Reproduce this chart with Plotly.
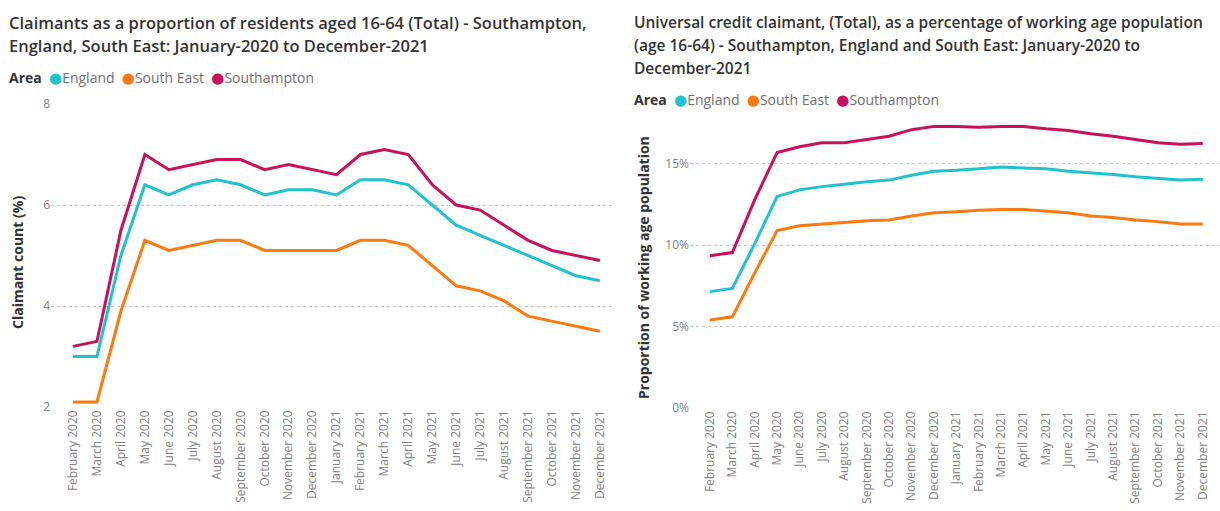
import plotly.graph_objects as go

months = ["February 2020", "March 2020", "April 2020", "May 2020", "June 2020", "July 2020",
          "August 2020", "September 2020", "October 2020", "November 2020", "December 2020",
          "January 2021", "February 2021", "March 2021", "April 2021", "May 2021", "June 2021",
          "July 2021", "August 2021", "September 2021", "October 2021", "November 2021",
          "December 2021"]

# Left chart: claimant count (%)
cc_england = [3.0, 3.0, 5.0, 6.4, 6.2, 6.4, 6.5, 6.4, 6.2, 6.3, 6.3, 6.2, 6.5, 6.5, 6.4,
              6.0, 5.6, 5.4, 5.2, 5.0, 4.8, 4.6, 4.5]
cc_south_east = [2.1, 2.1, 3.9, 5.3, 5.1, 5.2, 5.3, 5.3, 5.1, 5.1, 5.1, 5.1, 5.3, 5.3, 5.2,
                 4.8, 4.4, 4.3, 4.1, 3.8, 3.7, 3.6, 3.5]
cc_southampton = [3.2, 3.3, 5.5, 7.0, 6.7, 6.8, 6.9, 6.9, 6.7, 6.8, 6.7, 6.6, 7.0, 7.1, 7.0,
                  6.4, 6.0, 5.9, 5.6, 5.3, 5.1, 5.0, 4.9]

# Right chart: universal credit claimants (% of working age population)
uc_england = [7.15, 7.35, 10.1, 13.0, 13.4, 13.6, 13.75, 13.9, 14.0, 14.3, 14.55, 14.6, 14.7,
              14.8, 14.75, 14.7, 14.55, 14.45, 14.35, 14.2, 14.1, 14.0, 14.05]
uc_south_east = [5.4, 5.6, 8.3, 10.9, 11.2, 11.3, 11.4, 11.5, 11.55, 11.8, 12.0, 12.05, 12.15,
                 12.2, 12.2, 12.1, 12.0, 11.8, 11.7, 11.55, 11.45, 11.3, 11.3]
uc_southampton = [9.35, 9.55, 12.8, 15.7, 16.05, 16.3, 16.3, 16.5, 16.7, 17.1, 17.3, 17.3,
                  17.25, 17.3, 17.3, 17.15, 17.05, 16.85, 16.7, 16.5, 16.3, 16.2, 16.25]

areas = ["England", "South East", "Southampton"]
colors = {"England": "#1FC2CF", "South East": "#FF7A0E", "Southampton": "#C8105E"}

FONT = "Open Sans"
W, H = 1220, 511

fig = go.Figure()

left_series = {"England": cc_england, "South East": cc_south_east, "Southampton": cc_southampton}
right_series = {"England": uc_england, "South East": uc_south_east, "Southampton": uc_southampton}

for a in areas:
    fig.add_trace(go.Scatter(x=months, y=left_series[a], mode="lines", name=a,
                             line=dict(color=colors[a], width=3), showlegend=False,
                             xaxis="x", yaxis="y"))
for a in areas:
    fig.add_trace(go.Scatter(x=months, y=right_series[a], mode="lines", name=a,
                             line=dict(color=colors[a], width=3), showlegend=False,
                             xaxis="x2", yaxis="y2"))

def px(x):
    return x / W

def py(y):
    return (H - y) / H

tick_font = dict(family=FONT, size=12, color="#808080")

fig.update_layout(
    template="none",
    width=W, height=H,
    margin=dict(l=0, r=0, t=0, b=0, autoexpand=False),
    paper_bgcolor="white", plot_bgcolor="white",
    font=dict(family=FONT),
    showlegend=False,
    xaxis=dict(domain=[px(51), px(615)], type="category", range=[-0.92, 22.63],
               tickangle=-90, tickfont=tick_font, showgrid=False, showline=False,
               ticks="", anchor="y", automargin=False),
    yaxis=dict(domain=[py(407), py(104)], range=[2, 8], tickvals=[2, 4, 6, 8],
               tickfont=tick_font, showgrid=True, gridcolor="#C8C8C8", griddash="dot",
               gridwidth=1, zeroline=False, showline=False, ticks="", anchor="x",
               automargin=False),
    xaxis2=dict(domain=[px(690), px(1220)], type="category", range=[-0.89, 22.77],
                tickangle=-90, tickfont=tick_font, showgrid=False, showline=False,
                ticks="", anchor="y2", automargin=False),
    yaxis2=dict(domain=[py(408), py(115)], range=[0, 18], tickvals=[0, 5, 10, 15],
                ticktext=["0%", "5%", "10%", "15%"], tickfont=tick_font, showgrid=True,
                gridcolor="#C8C8C8", griddash="dot", gridwidth=1, zeroline=False,
                showline=False, ticks="", anchor="x2", automargin=False),
)

title_font_l = dict(family=FONT, size=16.5, color="#333333", weight=600)
title_font_r = dict(family=FONT, size=15.5, color="#333333", weight=600)
ann = []
def add_text(x, y, text, font, **kw):
    ann.append(dict(x=px(x), y=py(y), xref="paper", yref="paper", text=text,
                    showarrow=False, xanchor=kw.get("xanchor", "left"),
                    yanchor=kw.get("yanchor", "middle"), font=font,
                    textangle=kw.get("textangle", 0)))

add_text(7, 22, "Claimants as a proportion of residents aged 16-64 (Total) - Southampton,", title_font_l)
add_text(7, 45, "England, South East: January-2020 to December-2021", title_font_l)
add_text(632, 22, "Universal credit claimant, (Total), as a percentage of working age population", title_font_r)
add_text(632, 45, "(age 16-64) - Southampton, England and South East: January-2020 to", title_font_r)
add_text(632, 68, "December-2021", title_font_r)

def legend_html():
    parts = ["<span style='color:#333333'><b>Area</b></span>  "]
    for a in areas:
        parts.append(f"<span style='color:{colors[a]};font-size:15px;font-family:DejaVu Sans'>●</span>{a}  ")
    return "".join(parts)

legend_font = dict(family=FONT, size=14, color="#707070")
add_text(7, 77, legend_html(), legend_font)
add_text(632, 99, legend_html(), legend_font)

axis_title_font = dict(family=FONT, size=14, color="#333333")
add_text(17, 263, "<b>Claimant count (%)</b>", axis_title_font, xanchor="center", yanchor="middle", textangle=-90)
add_text(643, 268, "<b>Proportion of working age population</b>", axis_title_font, xanchor="center", yanchor="middle", textangle=-90)

fig.update_layout(annotations=ann)

fig.write_html("out.html", config={"displayModeBar": False},
               post_script="document.body.style.margin='0';document.body.style.overflow='hidden';")
